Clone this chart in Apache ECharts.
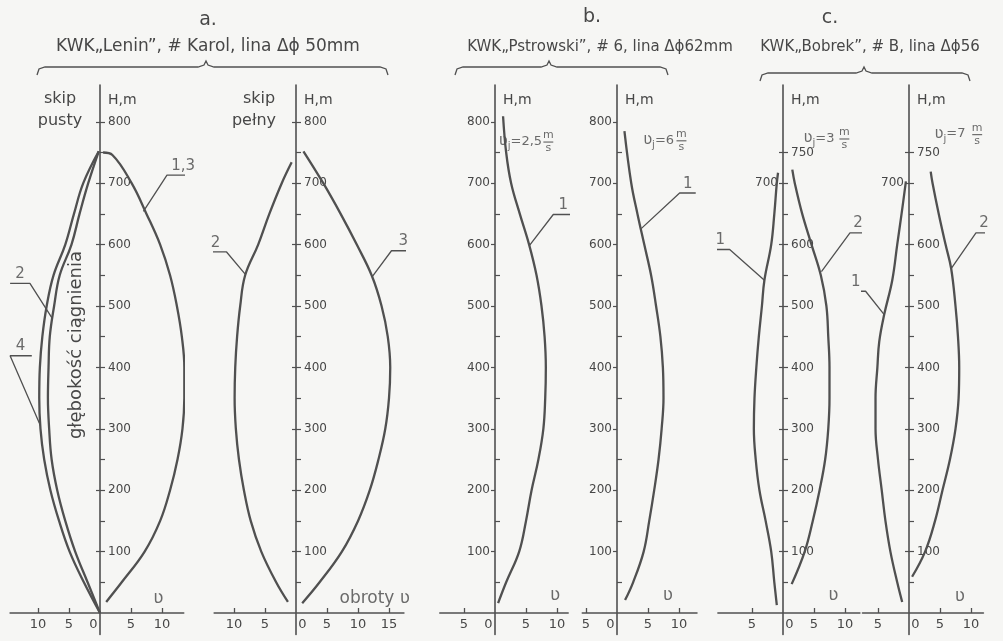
<!DOCTYPE html>
<html><head><meta charset="utf-8">
<script src="https://cdn.jsdelivr.net/npm/echarts@6/dist/echarts.min.js"></script>
<style>html,body{margin:0;padding:0;background:#f6f6f4}#c{width:1003px;height:641px}</style>
</head><body><div id="c"></div><script>
// ---------------- data ----------------
const xTicks_a1 = [-10, -5, 0, 5, 10];
const xTicks_a2 = [-10, -5, 0, 5, 10, 15];
const xTicks_b = [-5, 0, 5, 10];
const xTicks_c = [-5, 0, 5, 10];
const yTicks_all = [50,100,150,200,250,300,350,400,450,500,550,600,650,700,750,800];
const yTicks_100 = [100,200,300,400,500,600,700,800];
const yTicks_odd50 = [50,150,250,350,450,550,650,750];
const yTicks_c = [50,100,150,200,250,300,350,400,450,500,550,600,650,700,750];
const yTicks_c100 = [100,200,300,400,500,600,700,750];
const yLabels_ab = [100,200,300,400,500,600,700,800];
const yLabels_c = [100,200,300,400,500,600,750];
const yLabels_cLeft = [700];

// panel a, skip pusty : [obroty, H]
const a1_curve13 = [[1.0,18],[3.5,50],[7.2,100],[9.7,150],[11.3,200],[12.5,250],[13.3,300],[13.6,350],[13.6,400],[13.2,450],[12.4,500],[11.3,550],[9.7,600],[7.5,650],[5.1,700],[2.0,746],[0.5,750]];
const a1_curve2 = [[0,0],[-2.0,50],[-4.0,100],[-5.6,150],[-6.9,200],[-7.8,250],[-8.2,300],[-8.4,350],[-8.3,400],[-8.1,450],[-7.4,500],[-6.5,550],[-4.6,600],[-3.3,650],[-1.9,700],[-0.2,752]];
const a1_curve4 = [[0,0],[-2.6,50],[-4.9,100],[-6.6,150],[-8.0,200],[-9.0,250],[-9.6,300],[-9.8,350],[-9.7,400],[-9.3,450],[-8.6,500],[-7.5,550],[-5.6,600],[-4.2,650],[-2.7,700],[-0.2,752]];
// panel a, skip pelny
const a2_curve2 = [[-1.3,18],[-3.2,50],[-5.6,100],[-7.3,150],[-8.4,200],[-9.2,250],[-9.7,300],[-9.9,350],[-9.8,400],[-9.5,450],[-9.0,500],[-8.2,550],[-6.1,600],[-4.3,650],[-2.3,700],[-0.7,734]];
const a2_curve3 = [[1.0,16],[3.8,50],[7.4,100],[10.0,150],[11.9,200],[13.3,250],[14.4,300],[15.0,350],[15.2,400],[14.8,450],[13.8,500],[12.2,550],[9.8,600],[7.2,650],[4.4,700],[1.2,752]];
// panel b
const b1_curve1 = [[0.5,16],[1.8,50],[3.9,100],[5.0,150],[5.9,200],[7.0,250],[7.8,300],[8.1,350],[8.2,400],[8.0,450],[7.5,500],[6.7,550],[5.5,600],[4.0,650],[2.6,700],[1.8,750],[1.3,809]];
const b2_curve1 = [[1.3,21],[2.6,50],[4.3,100],[5.2,150],[6.0,200],[6.7,250],[7.2,300],[7.5,350],[7.4,400],[7.0,450],[6.3,500],[5.5,550],[4.4,600],[3.3,650],[2.3,700],[1.2,785]];
// panel c
const c1_curve1 = [[-1.0,13],[-1.4,50],[-1.9,100],[-2.8,150],[-3.8,200],[-4.4,250],[-4.7,300],[-4.6,350],[-4.3,400],[-3.9,450],[-3.4,500],[-3.0,542],[-1.9,600],[-1.4,650],[-1.0,700],[-0.8,717]];
const c1_curve2 = [[1.4,47],[3.5,100],[4.8,150],[5.9,200],[6.8,250],[7.3,300],[7.5,350],[7.5,400],[7.3,450],[7.0,500],[6.1,550],[4.6,600],[3.1,650],[1.9,700],[1.5,722]];
const c2_curve1 = [[-1.1,18],[-1.9,50],[-3.0,100],[-3.8,150],[-4.4,200],[-5.0,250],[-5.4,300],[-5.4,350],[-5.1,400],[-4.8,442],[-4.0,486],[-2.7,542],[-1.9,600],[-1.2,650],[-0.5,703]];
const c2_curve2 = [[0.5,59],[2.6,100],[4.2,150],[5.4,200],[6.6,250],[7.5,300],[8.0,350],[8.1,400],[7.9,450],[7.5,500],[6.8,561],[5.9,600],[4.8,650],[3.8,700],[3.5,719]];

const headers = ['a.', 'b.', 'c.'];
const titles = ['KWK\u201eLenin\u201d, # Karol, lina \u0394\u03d5 50mm', 'KWK\u201ePstrowski\u201d, # 6, lina \u0394\u03d562mm', 'KWK\u201eBobrek\u201d, # B, lina \u0394\u03d556'];
const speeds = ['=2,5', '=6', '=3', '=7'];

// ---------------- layout ----------------
const PXU = 6.2, Y0 = 613, PXM = 0.614, YMIN = -35, YMAX = 860;
const C = '#505050';
const T = '#474747';
const FONT = '"DejaVu Sans", sans-serif';
const panels = [
  {ax:100, xmin:-14.5, xmax:13.5, xt:xTicks_a1, zero:'L', kind:'a', curves:[a1_curve13,a1_curve2,a1_curve4]},
  {ax:296, xmin:-13.2, xmax:17.4, xt:xTicks_a2, zero:'R', kind:'a', curves:[a2_curve2,a2_curve3]},
  {ax:495, xmin:-8.9, xmax:11.8, xt:xTicks_b, zero:'L', kind:'b', curves:[b1_curve1]},
  {ax:617, xmin:-5.6, xmax:12.9, xt:xTicks_b, zero:'L', kind:'b', curves:[b2_curve1]},
  {ax:783, xmin:-10.5, xmax:12.4, xt:xTicks_c, zero:'R', kind:'c', curves:[c1_curve1,c1_curve2]},
  {ax:909, xmin:-7.5, xmax:12.0, xt:xTicks_c, zero:'R', kind:'c', curves:[c2_curve1,c2_curve2]}
];
// annotation leaders (data coords): polyline + label text at underline
const notes = [
  [{t:'1,3', at:[13.4,716], line:[[16.1,713],[10.8,713],[7.0,654]]},
   {t:'2', at:[-12.9,540], line:[[-14.5,537],[-11.3,537],[-7.7,480]]},
   {t:'4', at:[-12.8,422], line:[[-11.0,419],[-14.5,419],[-9.6,305]]},
   {t:'\u028b', at:[9.4,24], line:null}],
  [{t:'2', at:[-13.0,591], line:[[-14.7,588],[-11.2,588],[-8.2,552]]},
   {t:'3', at:[17.3,593], line:[[19.2,590],[15.4,590],[12.3,548]]},
   {t:'obroty \u028b', at:[12.7,24], line:null}],
  [{t:'1', at:[11.0,652], line:[[12.6,649],[9.4,649],[5.6,599]]},
   {t:'\u028b', at:[9.7,29], line:null}],
  [{t:'1', at:[11.4,687], line:[[12.7,684],[10.1,684],[3.9,626]]},
   {t:'\u028b', at:[8.2,29], line:null}],
  [{t:'1', at:[-10.1,595], line:[[-11.6,592],[-8.6,592],[-3.0,542]]},
   {t:'2', at:[12.1,622], line:[[13.4,619],[10.8,619],[6.2,556]]},
   {t:'\u028b', at:[8.1,29], line:null}],
  [{t:'1', at:[-8.6,527], line:[[-10.2,524],[-7.0,524],[-4.0,486]]},
   {t:'2', at:[12.1,622], line:[[13.4,619],[10.8,619],[6.8,561]]},
   {t:'\u028b', at:[8.2,26], line:null}]
];
// speed labels: panel index, main text end, fraction centre
const speedPos = [
  {p:2, end:[7.6,768], frac:8.6},
  {p:3, end:[9.2,770], frac:10.4},
  {p:4, end:[8.3,773], frac:9.9},
  {p:5, end:[9.1,780], frac:11.0}
];

const grids = [], xAxes = [], yAxes = [], series = [];
panels.forEach((p, i) => {
  grids.push({left: p.ax + p.xmin * PXU, width: (p.xmax - p.xmin) * PXU,
              top: Y0 - YMAX * PXM, height: (YMAX - YMIN) * PXM,
              containLabel:false, outerBoundsMode:'none'});
  xAxes.push({type:'value', gridIndex:i, min:p.xmin, max:p.xmax, position:'bottom', offset: YMIN * PXM,
    axisLine:{onZero:false, lineStyle:{color:C, width:1.6}},
    splitLine:{show:false},
    axisTick:{inside:true, length:5, customValues:p.xt.filter(v=>v!==0), lineStyle:{color:C, width:1.3}},
    axisLabel:{customValues:p.xt, margin:5, color:T, fontSize:13, fontFamily:FONT,
      formatter: v => v === 0 ? '{z|0}' : String(Math.abs(v)),
      rich:{z:{fontSize:13, fontFamily:FONT, color:T, padding: p.zero === 'L' ? [0,13,0,0] : [0,0,0,13]}}}
  });
  let aT, aL, bT, bL;
  if (p.kind === 'a') { aT = yTicks_all; aL = yLabels_ab; bT = yTicks_100; bL = []; }
  else if (p.kind === 'b') { aT = yTicks_odd50; aL = []; bT = yTicks_100; bL = yLabels_ab; }
  else { aT = yTicks_c; aL = yLabels_c; bT = yTicks_c100; bL = yLabels_cLeft; }
  yAxes.push({type:'value', gridIndex:i, min:YMIN, max:YMAX, position:'left', offset: p.xmin * PXU,
    name:'H,m', nameLocation:'end', nameGap:-22,
    nameTextStyle:{align:'left', padding:[0,0,0,8], color:T, fontSize:14, fontFamily:FONT},
    axisLine:{show:true, onZero:false, lineStyle:{color:C, width:1.6}},
    splitLine:{show:false},
    axisTick:{inside:true, length:5, customValues:aT, lineStyle:{color:C, width:1.2}},
    axisLabel:{inside:true, customValues:aL, margin:8, color:T, fontSize:12, fontFamily:FONT}
  });
  yAxes.push({type:'value', gridIndex:i, min:YMIN, max:YMAX, position:'left', offset: p.xmin * PXU,
    axisLine:{show:false, onZero:false},
    splitLine:{show:false},
    axisTick:{inside:false, length:4, customValues:bT, lineStyle:{color:C, width:1.2}},
    axisLabel:{inside:false, customValues:bL, margin:5, color:T, fontSize:12, fontFamily:FONT}
  });
  p.curves.forEach(c => series.push({type:'line', xAxisIndex:i, yAxisIndex:2*i, data:c,
    smooth:0.4, symbol:'none', clip:false, lineStyle:{color:C, width:2.3}}));
  notes[i].forEach(n => {
    if (n.line) series.push({type:'line', xAxisIndex:i, yAxisIndex:2*i, data:n.line,
      symbol:'none', clip:false, lineStyle:{color:C, width:1.3}});
    series.push({type:'scatter', xAxisIndex:i, yAxisIndex:2*i, clip:false, symbolSize:0.1,
      itemStyle:{color:'rgba(0,0,0,0)'}, silent:true,
      data:[{value:n.at, label:{show:true, formatter:n.t, position:'inside',
        verticalAlign: n.line ? 'bottom' : 'middle', align:'center',
        color:T, fontSize: n.line ? 15 : 17, fontFamily:FONT}}]});
  });
});
speedPos.forEach((s, k) => {
  const i = s.p;
  series.push({type:'scatter', xAxisIndex:i, yAxisIndex:2*i, clip:false, symbolSize:0.1,
    itemStyle:{color:'rgba(0,0,0,0)'}, silent:true,
    data:[
      {value:s.end, label:{show:true, position:'inside', align:'right', verticalAlign:'middle',
        formatter:'{v|\u028b}{j|j}{t|' + speeds[k] + '}',
        rich:{v:{fontSize:15, fontFamily:FONT, color:T, lineHeight:20},
              j:{fontSize:10, fontFamily:FONT, color:T, lineHeight:20, verticalAlign:'bottom', padding:[8,0,0,0]},
              t:{fontSize:13, fontFamily:FONT, color:T, lineHeight:20}}}},
      {value:[s.frac, s.end[1] + 10], label:{show:true, position:'inside', formatter:'m', fontSize:11, fontFamily:FONT, color:T}},
      {value:[s.frac, s.end[1] - 11], label:{show:true, position:'inside', formatter:'s', fontSize:11, fontFamily:FONT, color:T}}
    ]});
  series.push({type:'line', xAxisIndex:i, yAxisIndex:2*i, clip:false, symbol:'none',
    data:[[s.frac - 0.8, s.end[1] - 1], [s.frac + 0.8, s.end[1] - 1]], lineStyle:{color:C, width:1}});
});

function brace(x1, x2, xm, y) {
  return [[x1, y + 8], [x1 + 2, y + 2], [x1 + 8, y], [xm - 8, y], [xm - 2, y - 2], [xm, y - 6], [xm + 2, y - 2], [xm + 8, y], [x2 - 8, y], [x2 - 2, y + 2], [x2, y + 8]];
}
const tstyle = (s, f) => ({text:s, font:f, fill:T, textAlign:'center', textVerticalAlign:'middle'});
const graphic = [
  {type:'text', x:208, y:20, style:tstyle(headers[0], '19px ' + FONT)},
  {type:'text', x:592, y:17, style:tstyle(headers[1], '19px ' + FONT)},
  {type:'text', x:830, y:18, style:tstyle(headers[2], '19px ' + FONT)},
  {type:'text', x:208, y:47, style:tstyle(titles[0], '17px ' + FONT)},
  {type:'text', x:600, y:47, style:tstyle(titles[1], '15px ' + FONT)},
  {type:'text', x:870, y:47, style:tstyle(titles[2], '15px ' + FONT)},
  {type:'polyline', shape:{points:brace(37, 388, 206, 67)}, style:{stroke:C, lineWidth:1.3, fill:null}},
  {type:'polyline', shape:{points:brace(455, 668, 549, 67)}, style:{stroke:C, lineWidth:1.3, fill:null}},
  {type:'polyline', shape:{points:brace(760, 970, 864, 73)}, style:{stroke:C, lineWidth:1.3, fill:null}},
  {type:'text', x:60, y:99, style:tstyle('skip', '16px ' + FONT)},
  {type:'text', x:60, y:121, style:tstyle('pusty', '16px ' + FONT)},
  {type:'text', x:259, y:99, style:tstyle('skip', '16px ' + FONT)},
  {type:'text', x:254, y:121, style:tstyle('pe\u0142ny', '16px ' + FONT)},
  {type:'text', x:76, y:345, rotation:Math.PI/2, style:tstyle('g\u0142\u0119boko\u015b\u0107 ci\u0105gnienia', '18px ' + FONT)}
];

const chart = echarts.init(document.getElementById('c'), null, {renderer:'canvas'});
chart.setOption({backgroundColor:'#f6f6f4', animation:false, grid:grids, xAxis:xAxes, yAxis:yAxes, series:series, graphic:graphic});
</script></body></html>
